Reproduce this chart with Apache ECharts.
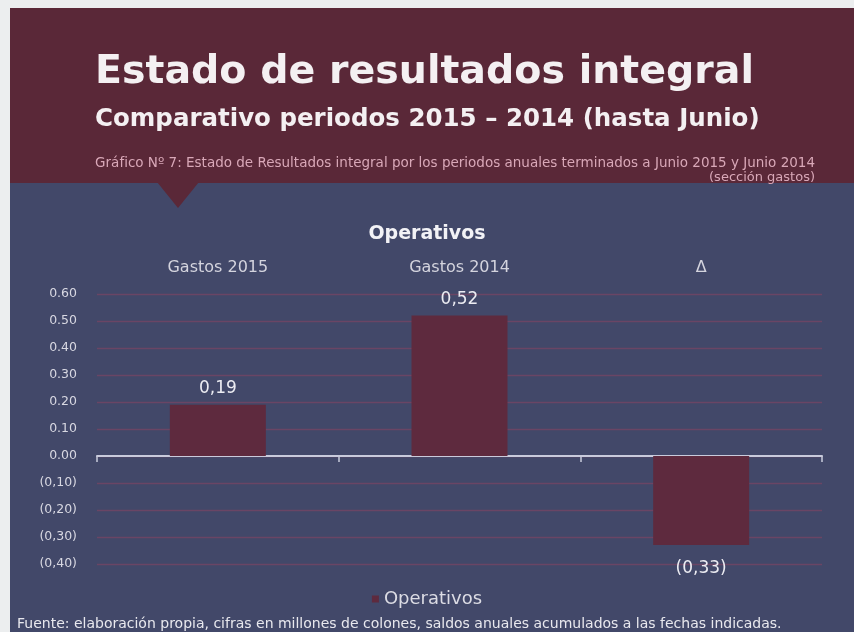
<!DOCTYPE html>
<html lang="es">

<head>
    <meta charset="UTF-8">
    <title>Estado de resultados integral</title>
    <script src="https://cdn.jsdelivr.net/npm/echarts@6/dist/echarts.min.js"></script>
</head>

<style>
    body {
        margin: 0;
        background: #eceeef;
    }

    #chart {
        width: 854px;
        height: 632px;
    }
</style>

<body>
    <div id="chart"></div>
</body>

<script>
    // datos del grafico
    let categorias = ['Gastos 2015', 'Gastos 2014', 'Δ'];
    let operativos = [0.19, 0.52, -0.33];
    let serieNombre = 'Operativos';
    let yMin = -0.4, yMax = 0.6, yPaso = 0.1;

    let fuente = 'DejaVu Sans';

    function fmtNum(v, dec) {
        let s = Math.abs(v).toFixed(dec);
        // los negativos van entre parentesis y con coma
        return v < 0 ? '(' + s.replace('.', ',') + ')' : s;
    }

    var myChart = echarts.init(document.getElementById('chart'));

    // etiqueta un poco mas separada en las barras negativas
    let datosBarra = operativos.map(function (v) {
        return { value: v, label: { distance: v < 0 ? 15 : 8 } };
    });

    option = {
        backgroundColor: 'transparent',
        textStyle: { fontFamily: fuente },
        graphic: [
            { type: 'rect', z: -10, shape: { x: 10, y: 8, width: 844, height: 624 }, style: { fill: '#424869' } },
            { type: 'rect', z: -9, shape: { x: 10, y: 8, width: 844, height: 175 }, style: { fill: '#5a2838' } },
            { type: 'polygon', z: -9, shape: { points: [[157, 182], [199, 182], [178, 208]] }, style: { fill: '#5a2838' } }
        ],
        title: [
            {
                text: 'Estado de resultados integral',
                left: 90, top: 48, z: 5,
                textStyle: { color: '#f4f0f2', fontSize: 39.5, fontWeight: 'bold', fontFamily: fuente }
            },
            {
                text: 'Comparativo periodos 2015 – 2014 (hasta Junio)',
                left: 90, top: 102, z: 5,
                textStyle: { color: '#f4f0f2', fontSize: 24.5, fontWeight: 'bold', fontFamily: fuente }
            },
            {
                text: 'Gráfico Nº 7: Estado de Resultados integral por los periodos anuales terminados a Junio 2015 y Junio 2014',
                right: 34, top: 151, z: 5,
                textStyle: { color: '#d9a8b8', fontSize: 13.5, fontWeight: 'normal', fontFamily: fuente }
            },
            {
                text: '(sección gastos)',
                right: 34, top: 166, z: 5,
                textStyle: { color: '#d9a8b8', fontSize: 13, fontWeight: 'normal', fontFamily: fuente }
            },
            {
                text: 'Operativos',
                left: 'center', top: 220, z: 5,
                textStyle: { color: '#f2f2f6', fontSize: 19, fontWeight: 'bold', fontFamily: fuente }
            },
            {
                text: 'Fuente: elaboración propia, cifras en millones de colones, saldos anuales acumulados a las fechas indicadas.',
                left: 12, top: 612, z: 5,
                textStyle: { color: '#e8e8ee', fontSize: 14, fontWeight: 'normal', fontFamily: fuente }
            }
        ],
        legend: {
            data: [serieNombre],
            left: 'center',
            top: 585,
            itemWidth: 7,
            itemHeight: 7,
            itemGap: 6,
            icon: 'rect',
            textStyle: { color: '#dcdce4', fontSize: 18, fontFamily: fuente }
        },
        grid: {
            left: 97,
            right: 32,
            top: 294,
            bottom: 68
        },
        xAxis: [
            {
                type: 'category',
                data: categorias,
                axisLine: { onZero: true, lineStyle: { color: '#c9cbdc', width: 2 } },
                axisTick: { show: true, length: 6, lineStyle: { color: '#c9cbdc', width: 1.5 } },
                axisLabel: { show: false }
            },
            {
                type: 'category',
                data: categorias,
                position: 'top',
                axisLine: { show: false },
                axisTick: { show: false },
                axisLabel: { color: '#d4d4de', fontSize: 16, margin: 18, fontFamily: fuente }
            }
        ],
        yAxis: {
            type: 'value',
            min: yMin,
            max: yMax,
            interval: yPaso,
            axisLine: { show: false },
            axisTick: { show: false },
            splitLine: { lineStyle: { color: '#6a4565', width: 1.3 } },
            axisLabel: {
                color: '#d8d8e2',
                fontSize: 12.5,
                margin: 20,
                fontFamily: fuente,
                formatter: function (v) { return fmtNum(v, 2); }
            }
        },
        series: [{
            name: serieNombre,
            type: 'bar',
            xAxisIndex: 0,
            data: datosBarra,
            barWidth: 96,
            itemStyle: { color: '#5e2a3e' },
            label: {
                show: true,
                position: 'outside',
                distance: 8,
                color: '#ececf2',
                fontSize: 17,
                fontFamily: fuente,
                formatter: function (p) {
                    let s = Math.abs(p.value).toFixed(2).replace('.', ',');
                    return p.value < 0 ? '(' + s + ')' : s;
                }
            }
        }]
    };

    myChart.setOption(option);
    window.addEventListener('resize', function () {
        myChart.resize();
    });
</script>

</html>
